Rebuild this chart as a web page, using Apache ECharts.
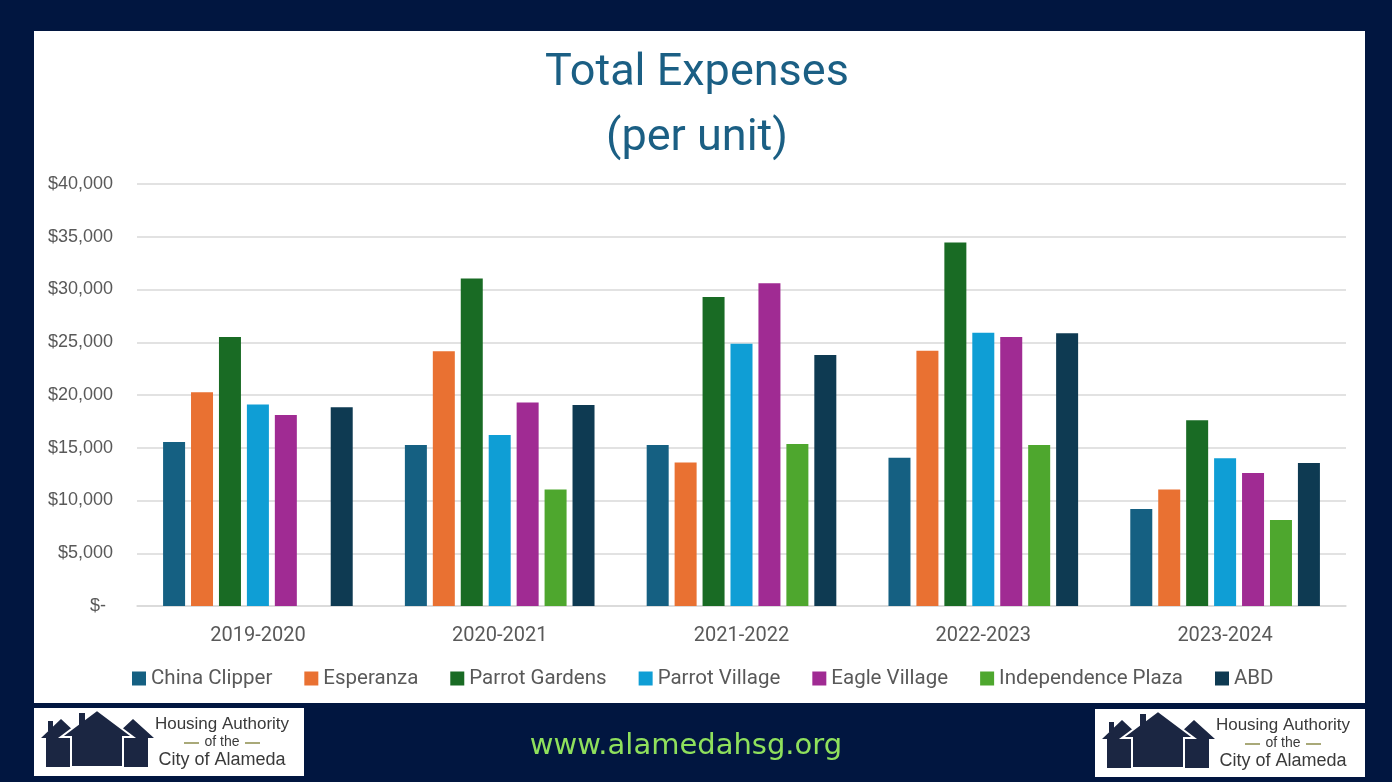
<!DOCTYPE html>
<html>
<head>
<meta charset="utf-8">
<title>Total Expenses (per unit)</title>
<script src="https://cdn.jsdelivr.net/npm/echarts@6/dist/echarts.min.js"></script>
<style>
    html, body { margin: 0; padding: 0; background: #011640; }
    #panel { position: absolute; left: 34px; top: 31px; width: 1331px; height: 672px; background: #ffffff; }
    #charts { position: absolute; left: 0; top: 0; width: 1392px; height: 782px; }
</style>
</head>
<body>
<div id="panel"></div>
<div id="charts"></div>
<script>
// fiscal years on the x axis
var years = ['2019-2020', '2020-2021', '2021-2022', '2022-2023', '2023-2024'];

// per unit expenses, one list per property
var chinaClipper      = [15550, 15250, 15250, 14050, 9200];
var esperanza         = [20250, 24150, 13600, 24200, 11050];
var parrotGardens     = [25500, 31050, 29300, 34450, 17600];
var parrotVillage     = [19100, 16200, 24850, 25900, 14000];
var eagleVillage      = [18100, 19300, 30600, 25500, 12600];
var independencePlaza = [null, 11050, 15350, 15250, 8150];
var abd               = [18850, 19050, 23800, 25850, 13550];

var yTicks = [0, 5000, 10000, 15000, 20000, 25000, 30000, 35000, 40000];

var seriesDefs = [
    { name : 'China Clipper',      data : chinaClipper,      color : '#156082' },
    { name : 'Esperanza',          data : esperanza,         color : '#E97132' },
    { name : 'Parrot Gardens',     data : parrotGardens,     color : '#196B24' },
    { name : 'Parrot Village',     data : parrotVillage,     color : '#0F9ED5' },
    { name : 'Eagle Village',      data : eagleVillage,      color : '#A02B93' },
    { name : 'Independence Plaza', data : independencePlaza, color : '#4EA72E' },
    { name : 'ABD',                data : abd,               color : '#0E3A52' }
];

// logo drawn with plain shapes, dx/dy is the offset of its white box
function logo(dx, dy) {
    var navy = '#1b2642';
    var g = [];
    g.push({ type : 'rect', shape : { x : dx, y : dy, width : 270, height : 68 }, style : { fill : '#ffffff' } });
    g.push({ type : 'polygon', shape : { points : [[dx+12,dy+59],[dx+12,dy+30],[dx+7,dy+30],[dx+27,dy+11],[dx+42,dy+25],[dx+42,dy+59]] }, style : { fill : navy } });
    g.push({ type : 'rect', shape : { x : dx+14, y : dy+13, width : 5, height : 10 }, style : { fill : navy } });
    g.push({ type : 'polygon', shape : { points : [[dx+114,dy+59],[dx+114,dy+30],[dx+120,dy+30],[dx+99,dy+11],[dx+84,dy+25],[dx+84,dy+59]] }, style : { fill : navy } });
    g.push({ type : 'polygon', shape : { points : [[dx+37,dy+59],[dx+37,dy+29],[dx+27,dy+29],[dx+63,dy+2],[dx+99,dy+29],[dx+89,dy+29],[dx+89,dy+59]] }, style : { fill : navy, stroke : '#ffffff', lineWidth : 2 } });
    g.push({ type : 'rect', shape : { x : dx+45, y : dy+5, width : 6, height : 12 }, style : { fill : navy } });
    g.push({ type : 'text', style : { x : dx+188, y : dy+16, text : 'Housing Authority', textAlign : 'center', textVerticalAlign : 'middle', font : '17px "Liberation Sans"', fill : '#3a3a3a' } });
    g.push({ type : 'text', style : { x : dx+188, y : dy+34, text : 'of the', textAlign : 'center', textVerticalAlign : 'middle', font : '14px "Liberation Sans"', fill : '#3a3a3a' } });
    g.push({ type : 'line', shape : { x1 : dx+150, y1 : dy+35, x2 : dx+165, y2 : dy+35 }, style : { stroke : '#8c8c4c', lineWidth : 1.5 } });
    g.push({ type : 'line', shape : { x1 : dx+211, y1 : dy+35, x2 : dx+226, y2 : dy+35 }, style : { stroke : '#8c8c4c', lineWidth : 1.5 } });
    g.push({ type : 'text', style : { x : dx+188, y : dy+52, text : 'City of Alameda', textAlign : 'center', textVerticalAlign : 'middle', font : '18px "Liberation Sans"', fill : '#3a3a3a' } });
    return g;
}

var chart = echarts.init(document.getElementById('charts'));
chart.setOption({
    animation : false,
    title : {
        text : 'Total Expenses\n(per unit)',
        left : 692,
        top : 36,
        textAlign : 'center',
        textStyle : {
            fontFamily : 'Roboto',
            fontSize : 45,
            fontWeight : 'normal',
            color : '#1b5f84',
            lineHeight : 65
        }
    },
    grid : { left : 137, right : 46, top : 184, bottom : 176 },
    legend : {
        left : 132,
        top : 668,
        padding : 0,
        itemWidth : 14,
        itemHeight : 14,
        itemGap : 32,
        icon : 'rect',
        textStyle : { fontFamily : 'Roboto', fontSize : 20.5, color : '#595959' },
        data : seriesDefs.map(function(s) { return s.name; })
    },
    xAxis : {
        type : 'category',
        data : years,
        axisLine : { lineStyle : { color : '#d9d9d9', width : 1.5 } },
        axisTick : { show : false },
        axisLabel : { fontFamily : 'Roboto', fontSize : 20, color : '#595959', margin : 20 }
    },
    yAxis : {
        type : 'value',
        min : yTicks[0],
        max : yTicks[yTicks.length - 1],
        interval : yTicks[1] - yTicks[0],
        axisLine : { show : false },
        axisTick : { show : false },
        splitLine : { lineStyle : { color : '#d9d9d9', width : 1.5 } },
        axisLabel : {
            margin : 24,
            fontFamily : 'Liberation Sans',
            fontSize : 18,
            color : '#595959',
            formatter : function(v) {
                if (v === 0) return '{z|$-}';
                return '$' + v.toLocaleString('en-US');
            },
            rich : { z : { fontFamily : 'Liberation Sans', fontSize : 18, color : '#595959', padding : [0, 7, 0, 0] } }
        }
    },
    series : seriesDefs.map(function(s) {
        return {
            name : s.name,
            type : 'bar',
            data : s.data,
            barWidth : 22,
            barGap : '27%',
            itemStyle : { color : s.color }
        };
    }),
    graphic : logo(34, 708).concat(logo(1095, 709)).concat([
        { type : 'text', style : { x : 686, y : 746, text : 'www.alamedahsg.org', textAlign : 'center', textVerticalAlign : 'middle', font : '29px "DejaVu Sans"', fill : '#8fe05c' } }
    ])
});
</script>
</body>
</html>
